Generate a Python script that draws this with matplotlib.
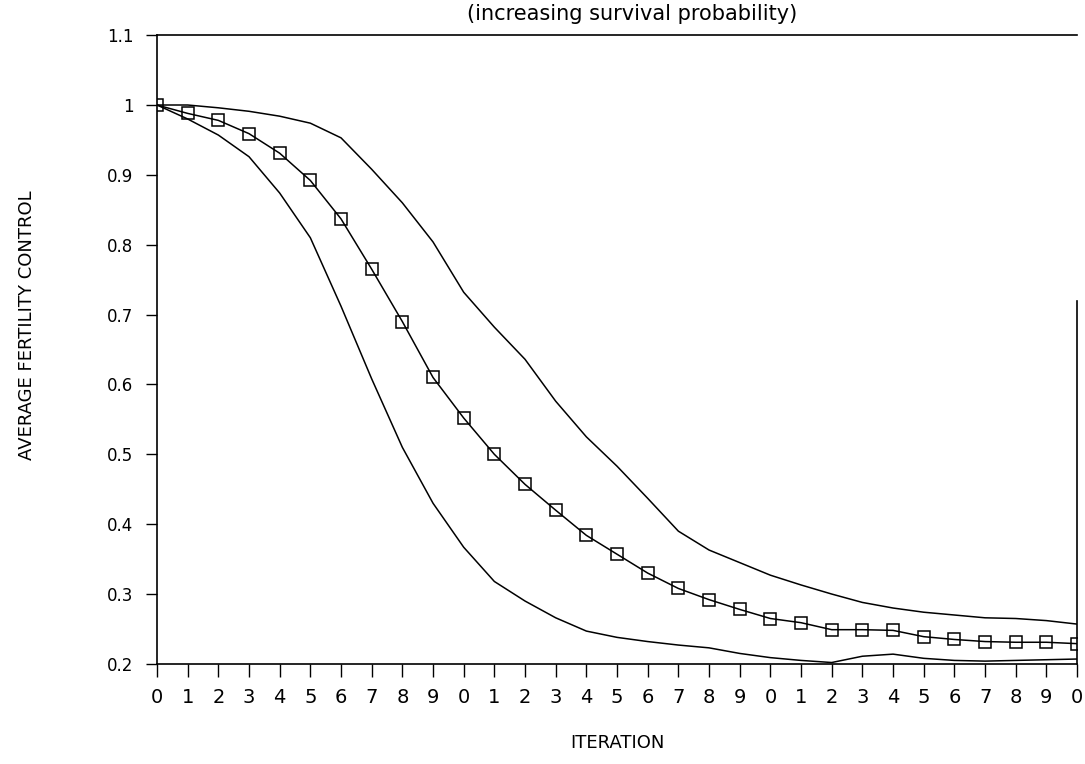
import matplotlib
matplotlib.use("Agg")
import matplotlib.pyplot as plt

# iteration number along the x axis
iterations = list(range(31))

# average fertility control (marked line)
mean_fc = [1.0, 0.988, 0.978, 0.959, 0.931, 0.892, 0.837, 0.765, 0.690, 0.610,
           0.552, 0.500, 0.457, 0.420, 0.384, 0.357, 0.330, 0.308, 0.292, 0.278,
           0.265, 0.259, 0.249, 0.249, 0.248, 0.239, 0.235, 0.232, 0.231, 0.231,
           0.229]

# upper envelope
upper_fc = [1.0, 1.0, 0.996, 0.991, 0.984, 0.974, 0.953, 0.908, 0.860, 0.804,
            0.732, 0.682, 0.636, 0.576, 0.525, 0.483, 0.437, 0.390, 0.363, 0.345,
            0.327, 0.313, 0.300, 0.288, 0.280, 0.274, 0.270, 0.266, 0.265, 0.262,
            0.257]

# lower envelope
lower_fc = [1.0, 0.980, 0.957, 0.926, 0.874, 0.810, 0.712, 0.608, 0.510, 0.430,
            0.367, 0.318, 0.290, 0.266, 0.247, 0.238, 0.232, 0.227, 0.223, 0.215,
            0.209, 0.205, 0.202, 0.211, 0.214, 0.208, 0.205, 0.204, 0.205, 0.206,
            0.207]

y_ticks = [0.2, 0.3, 0.4, 0.5, 0.6, 0.7, 0.8, 0.9, 1.0, 1.1]
y_tick_labels = ["0.2", "0.3", "0.4", "0.5", "0.6", "0.7", "0.8", "0.9", "1", "1.1"]
x_tick_labels = [str(i % 10) for i in iterations]

fig = plt.figure(figsize=(10.85, 7.64), dpi=100)
ax = fig.add_axes([0.1447, 0.131, 0.848, 0.823])

ax.plot(iterations, upper_fc, color="black", lw=1.1)
ax.plot(iterations, lower_fc, color="black", lw=1.1)
ax.plot(iterations, mean_fc, color="black", lw=1.1, marker="s", markersize=8.5,
        markerfacecolor="none", markeredgecolor="black", markeredgewidth=1.1)

ax.set_xlim(0, 30)
ax.set_ylim(0.2, 1.1)
ax.set_xticks(iterations)
ax.set_xticklabels(x_tick_labels, fontsize=14)
ax.set_yticks(y_ticks)
ax.set_yticklabels(y_tick_labels, fontsize=12)
ax.tick_params(axis="x", direction="out", length=9, width=1, pad=8)
ax.tick_params(axis="y", direction="out", length=8, width=1, pad=9)

for side in ["left", "bottom", "top", "right"]:
    ax.spines[side].set_linewidth(1.2)
# right frame line only shows on the lower part in the scan
ax.spines["right"].set_bounds(0.2, 0.72)

ax.set_xlabel("ITERATION", fontsize=13, labelpad=20)
fig.text(0.025, 0.575, "AVERAGE FERTILITY CONTROL", rotation=90, fontsize=13,
         ha="center", va="center")
fig.text(0.583, 0.995, "(increasing survival probability)", fontsize=15,
         ha="center", va="top")

fig.savefig("out.png", dpi=100)
